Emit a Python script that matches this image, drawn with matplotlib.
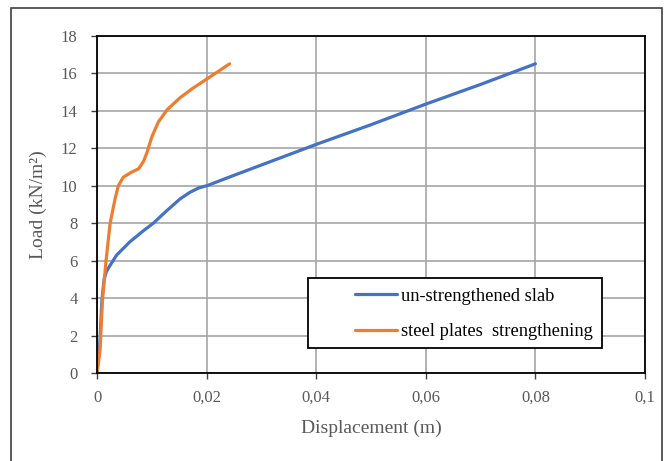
import matplotlib
matplotlib.use("Agg")
import matplotlib.pyplot as plt
from matplotlib.patches import Rectangle

plt.rcParams['font.family'] = ['Liberation Serif', 'DejaVu Serif']

# Data
blue_x = [0, 0.0005, 0.0009, 0.0013, 0.0017, 0.0025, 0.0036, 0.006, 0.0085, 0.0103, 0.0125,
          0.0152, 0.0170, 0.0186, 0.0201, 0.025, 0.03, 0.04, 0.05, 0.06, 0.07, 0.08]
blue_y = [0, 1.5, 3.9, 5.0, 5.4, 5.8, 6.3, 7.0, 7.6, 8.0, 8.6,
          9.3, 9.65, 9.88, 10.0, 10.55, 11.1, 12.2, 13.25, 14.35, 15.4, 16.5]
orange_x = [0, 0.00055, 0.001, 0.00165, 0.0024, 0.0033, 0.0039, 0.0048, 0.0062, 0.0076,
            0.0085, 0.0091, 0.0100, 0.0112, 0.0128, 0.0152, 0.0175, 0.0201, 0.0242]
orange_y = [0, 1.2, 3.9, 6.0, 8.0, 9.3, 10.0, 10.45, 10.7, 10.9,
            11.3, 11.75, 12.6, 13.4, 14.05, 14.7, 15.2, 15.7, 16.5]
series_labels = ["un-strengthened slab", "steel plates  strengthening"]
x_ticks = [0, 0.02, 0.04, 0.06, 0.08, 0.1]
x_tick_labels = ["0", "0,02", "0,04", "0,06", "0,08", "0,1"]
y_ticks = list(range(0, 19, 2))

fig = plt.figure(figsize=(6.69, 4.61), dpi=100)
ax = fig.add_axes([97/669, 88/461, 548/669, 337.3/461])

ax.plot(blue_x, blue_y, color='#4472C4', lw=2.3, label=series_labels[0],
        solid_capstyle='round', solid_joinstyle='round')
ax.plot(orange_x, orange_y, color='#ED7D31', lw=2.3, label=series_labels[1],
        solid_capstyle='round', solid_joinstyle='round')

ax.set_xlim(0, 0.1)
ax.set_ylim(0, 18)
ax.set_xticks(x_ticks)
ax.set_xticklabels(x_tick_labels)
ax.set_yticks(y_ticks)
ax.grid(True, color='#a6a6a6', lw=1.2)
ax.set_axisbelow(True)
for s in ax.spines.values():
    s.set_color('black')
    s.set_linewidth(1.3)
ax.tick_params(axis='both', labelsize=12, colors='#404040', labelcolor='#595959', length=4, width=1)
ax.tick_params(axis='x', pad=8)
ax.tick_params(axis='y', pad=10)

ax.set_xlabel("Displacement (m)", fontsize=14, color='#595959', labelpad=10)
ax.set_ylabel("Load (kN/m²)", fontsize=14, color='#595959', labelpad=10)

# legend frame
ax.add_patch(Rectangle((211/548, 25/337.3), 294/548, 70/337.3, transform=ax.transAxes,
                       facecolor='white', edgecolor='black', lw=1.3, zorder=5))
leg = ax.legend(loc='upper left', bbox_to_anchor=(258/548, 1 - 252/337.3), frameon=False,
                fontsize=13.3, handlelength=2.3, handletextpad=0.2, labelspacing=1.0,
                borderpad=0, borderaxespad=0)
leg.set_zorder(6)

# figure border
fig.patches.append(Rectangle((11/669, -0.01), 651/669, (461 - 8)/461 + 0.01,
                             transform=fig.transFigure, fill=False,
                             edgecolor='#404040', lw=1.2))

fig.savefig("out.png", dpi=100)
